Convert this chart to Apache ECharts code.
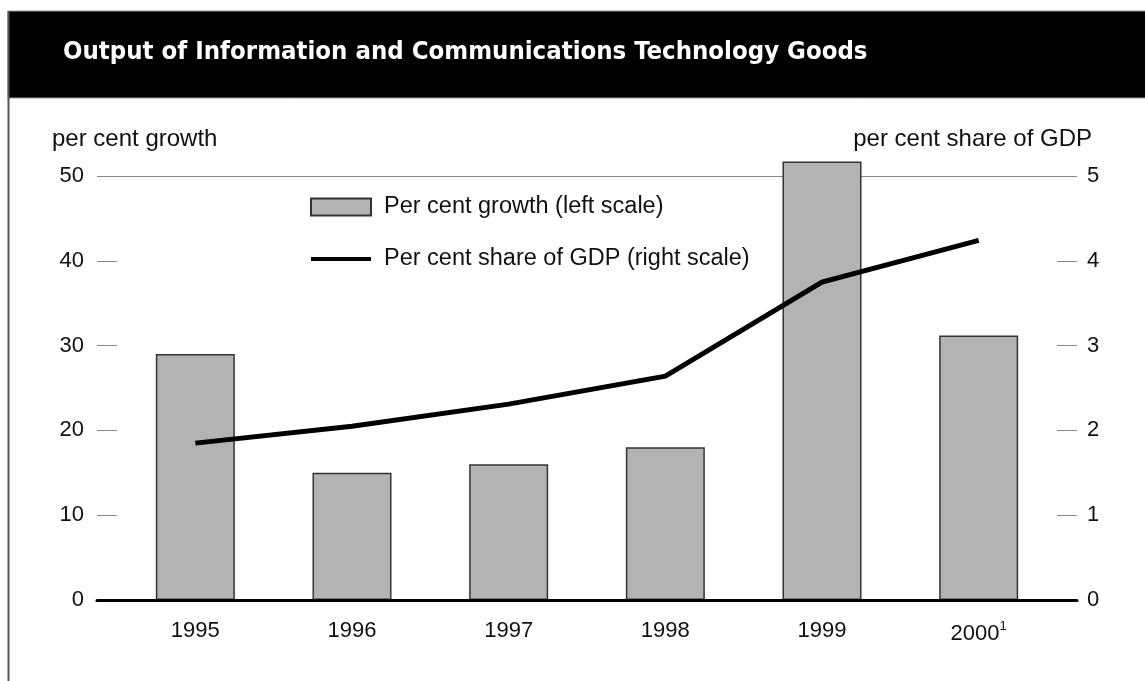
<!DOCTYPE html>
<html>
<head>
<meta charset="utf-8">
<script src="https://cdn.jsdelivr.net/npm/echarts@6/dist/echarts.min.js"></script>
<style>
html,body{margin:0;padding:0;background:#fff;}
#chart{width:1145px;height:681px;}
</style>
</head>
<body>
<div id="chart"></div>
<script>
// ---- data ----
const titleText = 'Output of Information and Communications Technology Goods';
const years = ['1995', '1996', '1997', '1998', '1999', '2000'];
const yearNotes = ['', '', '', '', '', '1'];
const growth = [29.0, 15.0, 16.0, 18.0, 51.7, 31.2];
const gdpShare = [1.85, 2.05, 2.31, 2.64, 3.75, 4.24];
const leftTicks = { min: 0, max: 50, interval: 10 };
const rightTicks = { min: 0, max: 5, interval: 1 };
const seriesNames = ['Per cent growth (left scale)', 'Per cent share of GDP (right scale)'];
const leftAxisName = 'per cent growth';
const rightAxisName = 'per cent share of GDP';

const FONT = '"Liberation Sans", Arial, Helvetica, sans-serif';
const chart = echarts.init(document.getElementById('chart'), null, { renderer: 'canvas' });

const option = {
  backgroundColor: '#ffffff',
  animation: false,
  textStyle: { fontFamily: FONT },
  graphic: [
    { type: 'rect', z: -10, shape: { x: 8, y: 11, width: 1140, height: 87 },
      style: { fill: '#000', stroke: '#999', lineWidth: 1 } },
    { type: 'line', z: -10, shape: { x1: 8.5, y1: 11, x2: 8.5, y2: 681 },
      style: { stroke: '#555', lineWidth: 2 } }
  ],
  title: [
    { text: titleText, left: 63, top: 39, padding: 0,
      textStyle: { color: '#fff', fontSize: 25.5, fontWeight: 'bold', fontFamily: '"DejaVu Sans Condensed", "DejaVu Sans", ' + FONT } },
    { text: leftAxisName, left: 52, top: 127, padding: 0,
      textStyle: { color: '#111', fontSize: 24, fontWeight: 'normal', fontFamily: FONT } },
    { text: rightAxisName, right: 53, top: 127, padding: 0,
      textStyle: { color: '#111', fontSize: 24, fontWeight: 'normal', fontFamily: FONT } }
  ],
  legend: {
    orient: 'vertical', left: 310, top: 195, padding: 0,
    itemWidth: 60, itemHeight: 17, itemGap: 28,
    symbolKeepAspect: true,
    textStyle: { fontSize: 23.5, color: '#111', fontFamily: FONT, padding: [0, 0, 0, 8] },
    data: [
      { name: seriesNames[0], icon: 'rect' },
      { name: seriesNames[1], icon: 'path://M0,0 L60,0 L60,4 L0,4 Z',
        itemStyle: { color: '#000', borderWidth: 0 } }
    ]
  },
  grid: [
    { left: 117, right: 88, top: 176, bottom: 81 },
    { left: 97, right: 68, top: 176, bottom: 81 }
  ],
  xAxis: [
    { type: 'category', gridIndex: 0, data: years, boundaryGap: true,
      axisLine: { show: false }, axisTick: { show: false },
      axisLabel: { fontSize: 22, color: '#111', margin: 20, fontFamily: FONT,
        formatter: function (v, i) { return yearNotes[i] ? v + '{s|' + yearNotes[i] + '}' : v; },
        rich: { s: { fontSize: 13, color: '#111', padding: [0, 0, 14, 0], fontFamily: FONT } } } },
    { type: 'value', gridIndex: 1, min: 0, max: 1, z: 10,
      axisLine: { show: true, onZero: false, lineStyle: { color: '#000', width: 3 } },
      axisTick: { show: false }, axisLabel: { show: false }, splitLine: { show: false } }
  ],
  yAxis: [
    { type: 'value', gridIndex: 0, position: 'left', min: leftTicks.min, max: leftTicks.max, interval: leftTicks.interval,
      axisLine: { show: false },
      axisTick: { show: true, inside: false, length: 20, lineStyle: { color: '#888', width: 1 } },
      axisLabel: { fontSize: 22, color: '#111', margin: 33, fontFamily: FONT },
      splitLine: { show: true, lineStyle: { color: ['rgba(0,0,0,0)', 'rgba(0,0,0,0)', 'rgba(0,0,0,0)', 'rgba(0,0,0,0)', 'rgba(0,0,0,0)', '#888'], width: 1 } } },
    { type: 'value', gridIndex: 0, position: 'right', min: rightTicks.min, max: rightTicks.max, interval: rightTicks.interval,
      axisLine: { show: false },
      axisTick: { show: true, inside: false, length: 20, lineStyle: { color: '#888', width: 1 } },
      axisLabel: { fontSize: 22, color: '#111', margin: 30, fontFamily: FONT },
      splitLine: { show: false } },
    { type: 'value', gridIndex: 1, min: 0, max: 1, show: false }
  ],
  series: [
    { name: seriesNames[0], type: 'bar', xAxisIndex: 0, yAxisIndex: 0, data: growth,
      barWidth: 79, clip: false,
      itemStyle: { color: '#b3b3b3', borderColor: '#333', borderWidth: 1.5 } },
    { name: seriesNames[1], type: 'line', xAxisIndex: 0, yAxisIndex: 1, data: gdpShare,
      symbol: 'none', z: 5,
      lineStyle: { color: '#000', width: 5, cap: 'butt', join: 'miter' },
      itemStyle: { color: '#000' } }
  ]
};
chart.setOption(option);
</script>
</body>
</html>
